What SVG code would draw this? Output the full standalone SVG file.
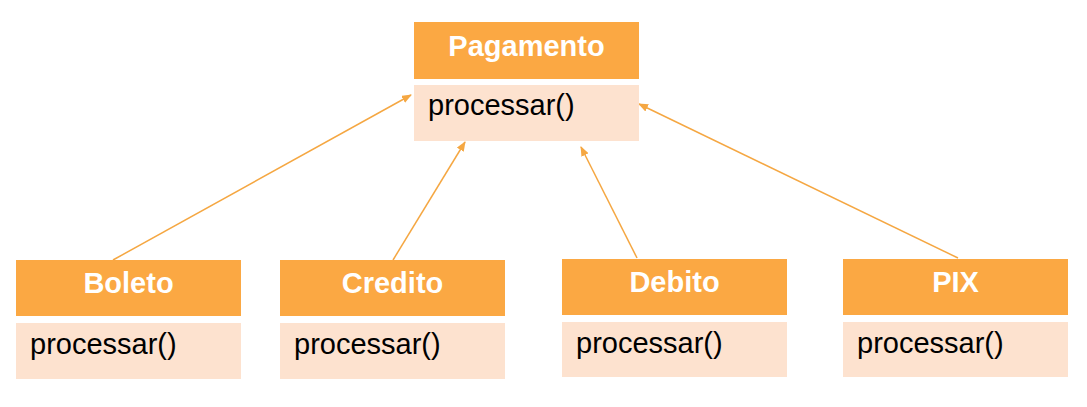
<svg xmlns="http://www.w3.org/2000/svg" width="1087" height="407" viewBox="0 0 1087 407">
<style>
.hd{fill:#FBA843}
.bd{fill:#FDE2CF}
.t{font-family:"Liberation Sans",Arial,sans-serif;font-size:29px;font-weight:bold;fill:#FFFFFF;text-anchor:middle}
.m{font-family:"Liberation Sans",Arial,sans-serif;font-size:29px;fill:#000000}
.c{stroke:#F5A742;stroke-width:1.5;fill:none;marker-end:url(#ah)}
</style>
<defs>
<marker id="ah" markerWidth="10" markerHeight="8" refX="9" refY="4" orient="auto" markerUnits="userSpaceOnUse">
<path d="M0,0 L10,4 L0,8 Z" fill="#F5A742"/>
</marker>
</defs>
<rect width="1087" height="407" fill="#FFFFFF"/>
<g id="connectors">
<line class="c" x1="113" y1="260" x2="411" y2="95"/>
<line class="c" x1="393" y1="260" x2="465" y2="142"/>
<line class="c" x1="637" y1="258" x2="581" y2="147"/>
<line class="c" x1="958" y1="258" x2="639" y2="104"/>
</g>
<g id="Pagamento">
<rect class="hd" x="414" y="22" width="225" height="57"/>
<rect class="bd" x="414" y="85" width="225" height="56"/>
<text class="t" x="526.5" y="56">Pagamento</text>
<text class="m" x="428" y="115">processar()</text>
</g>
<g id="Boleto">
<rect class="hd" x="16" y="260" width="225" height="56"/>
<rect class="bd" x="16" y="323" width="225" height="56"/>
<text class="t" x="128.5" y="293">Boleto</text>
<text class="m" x="30" y="354">processar()</text>
</g>
<g id="Credito">
<rect class="hd" x="280" y="260" width="225" height="56"/>
<rect class="bd" x="280" y="323" width="225" height="56"/>
<text class="t" x="392.5" y="293">Credito</text>
<text class="m" x="294" y="354">processar()</text>
</g>
<g id="Debito">
<rect class="hd" x="562" y="259" width="225" height="56"/>
<rect class="bd" x="562" y="322" width="225" height="55"/>
<text class="t" x="674.5" y="292">Debito</text>
<text class="m" x="576" y="353">processar()</text>
</g>
<g id="PIX">
<rect class="hd" x="843" y="259" width="225" height="56"/>
<rect class="bd" x="843" y="322" width="225" height="55"/>
<text class="t" x="955.5" y="292">PIX</text>
<text class="m" x="857" y="353">processar()</text>
</g>
</svg>
